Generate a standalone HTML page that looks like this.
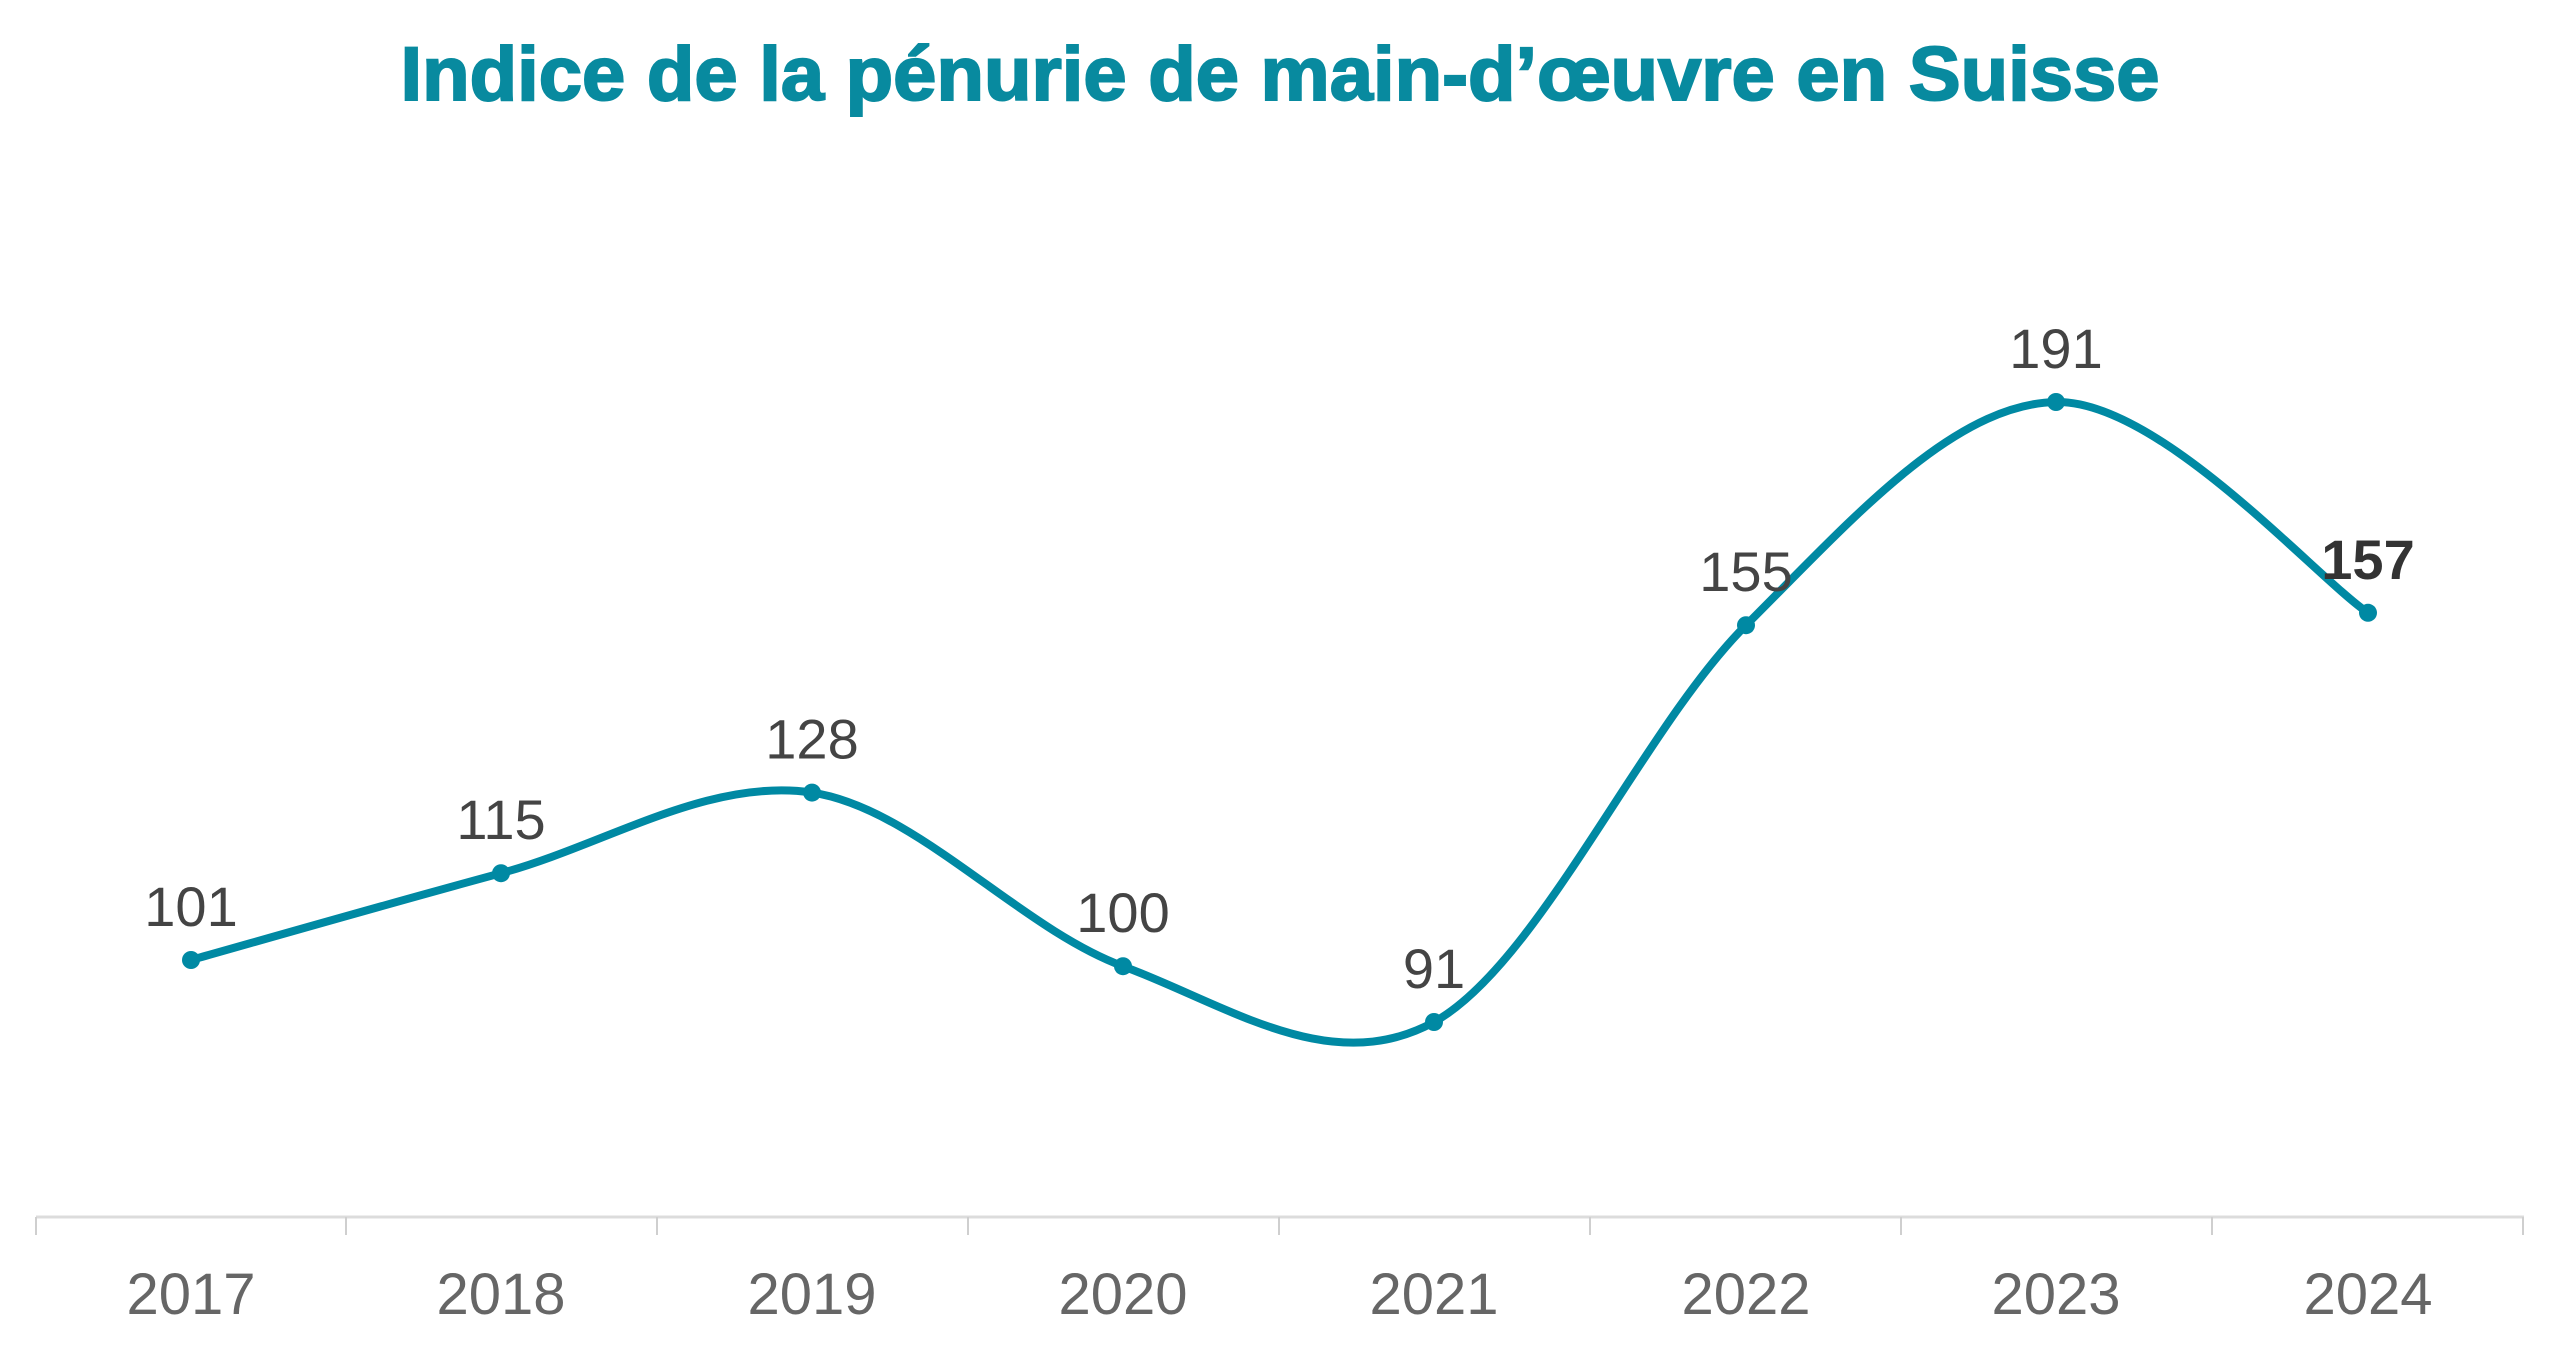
<!DOCTYPE html>
<html><head><meta charset="utf-8"><style>
html,body{margin:0;padding:0;background:#fff;}
svg{display:block;}
</style></head><body>
<svg id="c" width="2560" height="1350" xmlns="http://www.w3.org/2000/svg" font-family="'Liberation Sans', sans-serif">
<text x="1280" y="100" text-anchor="middle" font-size="76" font-weight="bold" fill="#088a9f" stroke="#088a9f" stroke-width="2" textLength="1759" lengthAdjust="spacingAndGlyphs">Indice de la pénurie de main-d’œuvre en Suisse</text>
<line x1="36" y1="1217" x2="2524" y2="1217" stroke="#dcdcdc" stroke-width="3"/>
<g stroke="#cfcfcf" stroke-width="2">
<line x1="36" y1="1217" x2="36" y2="1235"/><line x1="346" y1="1217" x2="346" y2="1235"/>
<line x1="657" y1="1217" x2="657" y2="1235"/><line x1="968" y1="1217" x2="968" y2="1235"/>
<line x1="1279" y1="1217" x2="1279" y2="1235"/><line x1="1590" y1="1217" x2="1590" y2="1235"/>
<line x1="1901" y1="1217" x2="1901" y2="1235"/><line x1="2212" y1="1217" x2="2212" y2="1235"/>
<line x1="2523" y1="1217" x2="2523" y2="1235"/>
</g>
<g font-size="58" fill="#666" text-anchor="middle">
<text x="191" y="1314">2017</text><text x="501" y="1314">2018</text><text x="812" y="1314">2019</text><text x="1123" y="1314">2020</text>
<text x="1434" y="1314">2021</text><text x="1746" y="1314">2022</text><text x="2056" y="1314">2023</text><text x="2368" y="1314">2024</text>
</g>
<path id="ln" fill="none" stroke="#0089a3" stroke-width="8" stroke-linecap="round"/>
<g id="mk" fill="#0089a3"></g>
<g id="lb" font-size="56" fill="#444" text-anchor="middle"></g>
</svg>
<script>
var xs=[191,501,812,1123,1434,1746,2056,2368],vs=[101,115,128,100,91,155,191,157];
var p=xs.map(function(x,i){return [x,960-(vs[i]-101)*6.2];});
var d="M"+p[0][0]+","+p[0][1];
for(var i=0;i<p.length-1;i++){var p0=p[i-1]||p[i],p1=p[i],p2=p[i+1],p3=p[i+2]||p2;
d+=" C"+(p1[0]+(p2[0]-p0[0])/6)+","+(p1[1]+(p2[1]-p0[1])/6)+" "+(p2[0]-(p3[0]-p1[0])/6)+","+(p2[1]-(p3[1]-p1[1])/6)+" "+p2[0]+","+p2[1];}
document.getElementById("ln").setAttribute("d",d);
var ns="http://www.w3.org/2000/svg",mk=document.getElementById("mk"),lb=document.getElementById("lb");
p.forEach(function(q,i){var c=document.createElementNS(ns,"circle");c.setAttribute("cx",q[0]);c.setAttribute("cy",q[1]);c.setAttribute("r",9);mk.appendChild(c);
var t=document.createElementNS(ns,"text");t.setAttribute("x",q[0]);t.setAttribute("y",q[1]-34);t.textContent=vs[i];
if(i==7){t.setAttribute("font-weight","bold");t.setAttribute("fill","#333");}lb.appendChild(t);});
</script>
</body></html>
